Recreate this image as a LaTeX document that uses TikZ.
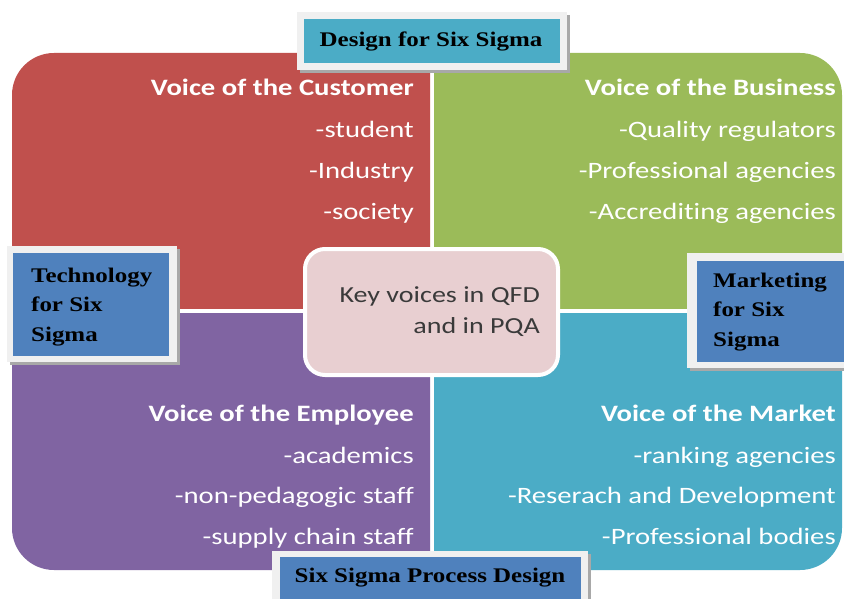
\documentclass[tikz,border=0pt]{standalone}
\usepackage{fontspec}
\newfontfamily\calfont{Carlito}[FakeStretch=1.22, Ligatures=NoCommon]
\newfontfamily\timfont{Liberation Serif}[FakeStretch=1.2]
\definecolor{qred}{HTML}{C0504D}
\definecolor{qgreen}{HTML}{9BBB59}
\definecolor{qpurple}{HTML}{8064A2}
\definecolor{qcyan}{HTML}{4BACC6}
\definecolor{lblue}{HTML}{4F81BD}
\definecolor{cpink}{HTML}{E8CFD1}
\definecolor{framegray}{HTML}{F0F0F0}
\definecolor{shadowgray}{HTML}{A8A8A8}
\definecolor{ctext}{HTML}{3A3A3A}
\begin{document}
\begin{tikzpicture}[x=1pt,y=-1pt,
  qitem/.style={text=white, font=\calfont\fontsize{23.5}{28}\selectfont, anchor=east, inner sep=0pt, text height=0.7em, text depth=0.2em},
  qtitle/.style={qitem, font=\calfont\bfseries\fontsize{23.5}{28}\selectfont},
  lbltext/.style={text=black, font=\timfont\bfseries\fontsize{20.8}{29.5}\selectfont, inner sep=0pt, align=left},
  shadowbox/.style={fill=shadowgray},
  framebox/.style={fill=framegray},
  ctr/.style={text=ctext, font=\calfont\fontsize{23}{31}\selectfont, inner sep=0pt, align=right}
]
\useasboundingbox (0,0) rectangle (844,599);
\fill[white] (0,0) rectangle (844,599);
% quadrants
\begin{scope}
  \clip (0,0) rectangle (430,308);
  \fill[qred, rounded corners=42pt] (12,53) rectangle (842,570);
\end{scope}
\begin{scope}
  \clip (434,0) rectangle (844,308);
  \fill[qgreen, rounded corners=42pt] (12,53) rectangle (842,570);
\end{scope}
\begin{scope}
  \clip (0,313) rectangle (430,599);
  \fill[qpurple, rounded corners=42pt] (12,53) rectangle (842,570);
\end{scope}
\begin{scope}
  \clip (434,313) rectangle (844,599);
  \fill[qcyan, rounded corners=42pt] (12,53) rectangle (842,570);
\end{scope}
% quadrant texts
\node[qtitle] (c0) at (414,93) {Voice of the Customer};
\node[qitem] (c1) at (414,135) {-student};
\node[qitem] (c2) at (414,176) {-Industry};
\node[qitem] (c3) at (414,217) {-society};
\node[qtitle] (b0) at (836,93) {Voice of the Business};
\node[qitem] (b1) at (836,135) {-Quality regulators};
\node[qitem] (b2) at (836,176) {-Professional agencies};
\node[qitem] (b3) at (836,217) {-Accrediting agencies};
\node[qtitle] (e0) at (414,419) {Voice of the Employee};
\node[qitem] (e1) at (414,461) {-academics};
\node[qitem] (e2) at (414,501) {-non-pedagogic staff};
\node[qitem] (e3) at (414,542) {-supply chain staff};
\node[qtitle] (m0) at (836,419) {Voice of the Market};
\node[qitem] (m1) at (836,461) {-ranking agencies};
\node[qitem] (m2) at (836,501) {-Reserach and Development};
\node[qitem] (m3) at (836,542) {-Professional bodies};
% centre
\node[draw=white, line width=4pt, fill=cpink, rounded corners=20pt, minimum width=253pt, minimum height=126pt, inner sep=0pt] (hub) at (431.5,312) {};
\node[ctr, anchor=east] (hubtext) at (540,311.5) {Key voices in QFD\\and in PQA};
% top label
\fill[shadowbox] (300,15) rectangle (570,73);
\fill[framebox] (297,12) rectangle (567,70);
\fill[qcyan] (304,19) rectangle (560,63);
\node[lbltext] (dfss) at (431,41) {Design for Six Sigma};
% left label
\fill[shadowbox] (10,249) rectangle (180,365);
\fill[framebox] (7,246) rectangle (177,362);
\fill[lblue] (13,253) rectangle (169,356);
\node[lbltext, anchor=west] (tfss) at (31,307) {Technology\\for Six\\Sigma};
% right label
\fill[shadowbox] (690,256) rectangle (850,371);
\fill[framebox] (687,253) rectangle (850,368);
\fill[lblue] (697,261) rectangle (850,362);
\node[lbltext, anchor=west] (mfss) at (713,312) {Marketing\\for Six\\Sigma};
% bottom label
\fill[shadowbox] (275,554) rectangle (591,605);
\fill[framebox] (272,551) rectangle (588,605);
\fill[lblue] (280,557) rectangle (581,605);
\node[lbltext] (sspd) at (430,578) {Six Sigma Process Design};
\end{tikzpicture}
\end{document}
